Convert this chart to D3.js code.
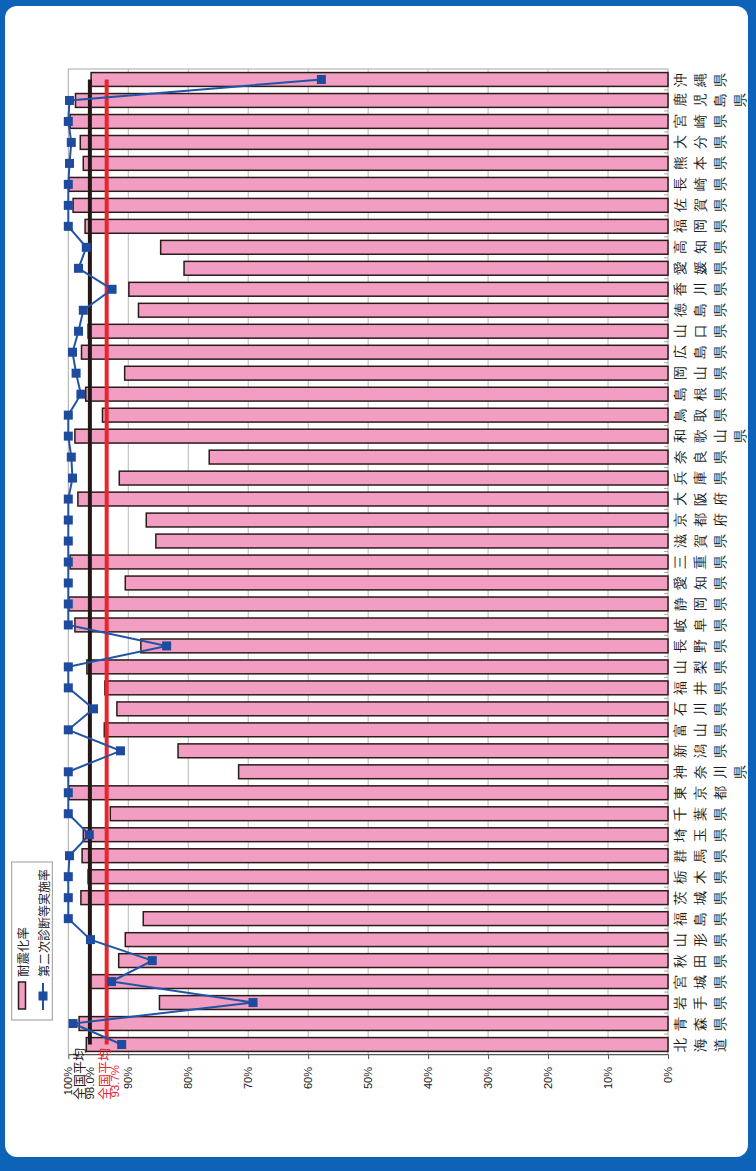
<!DOCTYPE html>
<html>
<head>
<meta charset="utf-8">
<script src="https://cdnjs.cloudflare.com/ajax/libs/d3/7.8.5/d3.min.js"></script>
<style>
  body { margin: 0; background: #fff; }
  svg { display: block; }
  text { font-family: "Liberation Sans", Arial, sans-serif; }
  .jp { font-family: "Noto Sans CJK JP", sans-serif; }
</style>
</head>
<body>
<svg id="chart" width="756" height="1171"></svg>
<script>
// prefectures, left to right in the unrotated chart
var prefs = ["北海道", "青森県", "岩手県", "宮城県", "秋田県", "山形県", "福島県", "茨城県", "栃木県", "群馬県",
  "埼玉県", "千葉県", "東京都", "神奈川県", "新潟県", "富山県", "石川県", "福井県", "山梨県", "長野県",
  "岐阜県", "静岡県", "愛知県", "三重県", "滋賀県", "京都府", "大阪府", "兵庫県", "奈良県", "和歌山県",
  "鳥取県", "島根県", "岡山県", "広島県", "山口県", "徳島県", "香川県", "愛媛県", "高知県", "福岡県",
  "佐賀県", "長崎県", "熊本県", "大分県", "宮崎県", "鹿児島県", "沖縄県"];

// 耐震化率 (%)
var taishinRate = [97.0, 98.2, 84.8, 96.5, 91.6, 90.5, 87.5, 97.9, 96.7, 97.7,
  97.5, 93.0, 99.9, 71.6, 81.7, 94.0, 91.9, 93.9, 96.9, 87.9,
  98.9, 99.9, 90.5, 99.7, 85.4, 87.0, 98.4, 91.5, 76.5, 98.9,
  94.3, 97.1, 90.6, 97.8, 96.7, 88.3, 89.9, 80.7, 84.6, 97.2,
  99.2, 99.9, 97.5, 98.0, 99.7, 98.8, 96.2];

// 第二次診断等実施率 (%)
var shindanRate = [91.1, 99.2, 69.2, 92.8, 86.0, 96.3, 100, 100, 100, 99.8,
  96.5, 100, 100, 100, 91.3, 100, 95.8, 100, 100, 83.6,
  100, 100, 100, 100, 100, 100, 100, 99.3, 99.5, 100,
  100, 97.9, 98.7, 99.3, 98.3, 97.5, 92.7, 98.3, 97.0, 100,
  100, 100, 99.8, 99.5, 100, 99.8, 57.8];

// 全国平均 reference lines (position as drawn, label as printed)
var avgValues = [96.4, 93.6];
var avgLabels = ["98.0%", "93.7%"];

var valueTicks = [0, 10, 20, 30, 40, 50, 60, 70, 80, 90, 100];

var W = 756, H = 1171;
var svg = d3.select("#chart");

// blue rounded frame
svg.append("rect").attr("width", W).attr("height", H).attr("fill", "#0d63b7");
svg.append("rect").attr("x", 5).attr("y", 6).attr("width", 743).attr("height", 1151)
  .attr("rx", 12).attr("fill", "#fff");

// the chart is drawn upright and turned a quarter turn counter-clockwise
var g = svg.append("g").attr("transform", "translate(0," + H + ") rotate(-90)");

var plotL = 116, plotR = 1102, plotT = 68.3, plotB = 668;

var x = d3.scaleBand().domain(prefs).range([plotL, plotR])
  .paddingInner(0.34).paddingOuter(0.17);
var y = d3.scaleLinear().domain([0, 100]).range([plotB, plotT]);
var bw = x.bandwidth();
function cx(p) { return x(p) + bw / 2; }

// plot frame
g.append("rect")
  .attr("x", plotL).attr("y", plotT)
  .attr("width", plotR - plotL).attr("height", plotB - plotT)
  .attr("fill", "#fff").attr("stroke", "#a8a8a8").attr("stroke-width", 1);

// gridlines
g.append("g").selectAll("line")
  .data(valueTicks.filter(function(d) { return d > 0 && d < 100; }))
  .enter().append("line")
  .attr("x1", plotL).attr("x2", plotR)
  .attr("y1", function(d) { return y(d); })
  .attr("y2", function(d) { return y(d); })
  .attr("stroke", "#b8b8b8").attr("stroke-width", 1);

// category ticks between bands
g.append("g").selectAll("line")
  .data(prefs.slice(1))
  .enter().append("line")
  .attr("x1", function(d) { return x(d) - x.step() * x.paddingInner() / 2; })
  .attr("x2", function(d) { return x(d) - x.step() * x.paddingInner() / 2; })
  .attr("y1", y(0)).attr("y2", y(0) - 4)
  .attr("stroke", "#aaa");

// bars
g.append("g").selectAll("rect")
  .data(prefs)
  .enter().append("rect")
  .attr("x", function(d) { return x(d); })
  .attr("y", function(d, i) { return y(taishinRate[i]); })
  .attr("width", bw)
  .attr("height", function(d, i) { return y(0) - y(taishinRate[i]); })
  .attr("fill", "#f19ec2")
  .attr("stroke", "#2a1c19")
  .attr("stroke-width", 1.5);

// value axis
var yAxis = g.append("g")
  .attr("transform", "translate(" + plotL + ",0)")
  .call(d3.axisLeft(y).tickValues(valueTicks)
    .tickFormat(function(d) { return d + "%"; })
    .tickSize(4).tickSizeOuter(0).tickPadding(8));
yAxis.select(".domain").attr("stroke", "#555");
yAxis.selectAll(".tick line").attr("stroke", "#555");
yAxis.selectAll("text").attr("font-size", 11).attr("fill", "#222")
  .attr("font-family", "'Liberation Sans', Arial, sans-serif");

// 全国平均 lines
var avgColors = ["#231815", "#e8242c"];
avgValues.forEach(function(v, i) {
  g.append("line")
    .attr("x1", cx(prefs[0])).attr("x2", cx(prefs[prefs.length - 1]))
    .attr("y1", y(v)).attr("y2", y(v))
    .attr("stroke", avgColors[i]).attr("stroke-width", 4);
});

// 第二次診断等実施率 line
var line = d3.line()
  .x(function(d, i) { return cx(prefs[i]); })
  .y(function(d) { return y(d); });
g.append("path")
  .datum(shindanRate)
  .attr("d", line)
  .attr("fill", "none")
  .attr("stroke", "#2254a6")
  .attr("stroke-width", 2);
g.append("g").selectAll("rect")
  .data(shindanRate)
  .enter().append("rect")
  .attr("x", function(d, i) { return cx(prefs[i]) - 4.5; })
  .attr("y", function(d) { return y(d) - 4.5; })
  .attr("width", 9).attr("height", 9)
  .attr("fill", "#1f4b9e");

// 全国平均 labels
var avgLabelPos = [{ t: 78, v: 90, e: 104 }, { t: 103, v: 115, e: 106 }];
avgLabels.forEach(function(lab, i) {
  var p = avgLabelPos[i];
  g.append("text").attr("class", "jp")
    .attr("x", 123).attr("y", p.t)
    .attr("text-anchor", "end").attr("dominant-baseline", "central")
    .attr("font-size", 13).attr("fill", avgColors[i])
    .text("全国平均");
  g.append("text")
    .attr("x", p.e).attr("y", p.v)
    .attr("text-anchor", "end").attr("dominant-baseline", "central")
    .attr("font-size", 11.5).attr("fill", avgColors[i])
    .text(lab);
});

// category labels, one glyph per row (vertical writing)
var catLabels = g.append("g").attr("class", "jp");
prefs.forEach(function(p) {
  Array.from(p).forEach(function(ch, k) {
    catLabels.append("text")
      .attr("x", cx(p)).attr("y", 680.5 + 20 * k)
      .attr("text-anchor", "middle").attr("dominant-baseline", "central")
      .attr("font-size", 13.5).attr("font-weight", 500).attr("fill", "#1a1a1a")
      .text(ch);
  });
});

// legend
var leg = g.append("g");
leg.append("rect").attr("x", 151).attr("y", 11.7).attr("width", 158).attr("height", 40.6)
  .attr("fill", "#fff").attr("stroke", "#999");
leg.append("rect").attr("x", 162).attr("y", 18.5).attr("width", 27).attr("height", 7)
  .attr("fill", "#f19ec2").attr("stroke", "#2a1c19").attr("stroke-width", 1.5);
leg.append("text").attr("class", "jp").attr("x", 194).attr("y", 22)
  .attr("dominant-baseline", "central").attr("font-size", 12.5).attr("fill", "#222")
  .text("耐震化率");
leg.append("line").attr("x1", 161).attr("x2", 188).attr("y1", 43).attr("y2", 43)
  .attr("stroke", "#2254a6").attr("stroke-width", 2);
leg.append("rect").attr("x", 170.5).attr("y", 38.5).attr("width", 9).attr("height", 9)
  .attr("fill", "#1f4b9e");
leg.append("text").attr("class", "jp").attr("x", 194).attr("y", 43)
  .attr("dominant-baseline", "central").attr("font-size", 12).attr("fill", "#222")
  .text("第二次診断等実施率");
</script>
</body>
</html>
